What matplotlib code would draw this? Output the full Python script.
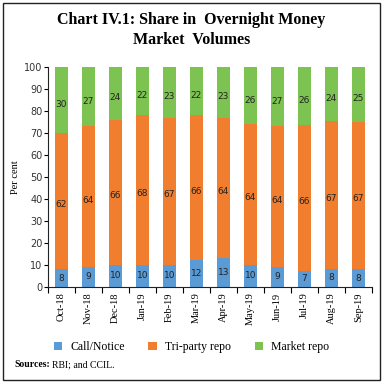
import numpy as np
import matplotlib.pyplot as plt
from matplotlib.patches import Rectangle

# -----------------------------
# Data
# -----------------------------
months = ['Oct-18', 'Nov-18', 'Dec-18', 'Jan-19', 'Feb-19', 'Mar-19',
          'Apr-19', 'May-19', 'Jun-19', 'Jul-19', 'Aug-19', 'Sep-19']
call_notice = [8, 9, 10, 10, 10, 12, 13, 10, 9, 7.4, 8.2, 8]
tri_party = [62, 64, 66, 68, 67, 66, 64, 64, 64, 66.3, 67.4, 67]
market_repo = [30, 27, 24, 22, 23, 22, 23, 26, 27, 26.3, 24.4, 25]

c_blue = '#5B9BD5'
c_orange = '#F07E2E'
c_green = '#7DC352'

serif = 'Liberation Serif'

fig = plt.figure(figsize=(3.83, 3.83), dpi=100)
ax = fig.add_axes([0.125, 0.251, 0.846, 0.574])

x = np.arange(len(months))
w = 0.48
call = np.array(call_notice)
tri = np.array(tri_party)
mkt = np.array(market_repo)

b1 = ax.bar(x, call, w, color=c_blue, label='Call/Notice')
b2 = ax.bar(x, tri, w, bottom=call, color=c_orange, label='Tri-party repo')
b3 = ax.bar(x, mkt, w, bottom=call + tri, color=c_green, label='Market repo')

# segment labels
lab = dict(ha='center', va='center', fontsize=6.5, color='#222222')
for i in range(len(x)):
    ax.text(x[i], call[i] / 2, f'{call[i]:.0f}', **lab)
    ax.text(x[i], call[i] + tri[i] / 2 - 1.5, f'{tri[i]:.0f}', **lab)
    ax.text(x[i], call[i] + tri[i] + mkt[i] / 2 - 2, f'{mkt[i]:.0f}', **lab)

ax.set_xlim(-0.5, len(months) - 0.5)
ax.set_ylim(0, 100)
ax.set_yticks(np.arange(0, 101, 10))
ax.tick_params(axis='y', labelsize=7, length=3, direction='out', pad=1, labelcolor='#333333')

# ticks between categories, labels at centers
ax.set_xticks(np.arange(-0.5, len(months), 1))
ax.set_xticklabels([])
ax.set_xticks(x, minor=True)
ax.set_xticklabels(months, minor=True, rotation=90, fontsize=7.5, family=serif)
ax.tick_params(axis='x', which='major', length=4, direction='out')
ax.tick_params(axis='x', which='minor', length=0, pad=4)

for s in ['top', 'right']:
    ax.spines[s].set_visible(False)
ax.spines['left'].set_color('#222222')
ax.spines['bottom'].set_color('#222222')

ax.set_ylabel('Per cent', fontsize=7.5, family=serif, labelpad=3)

fig.text(0.5, 0.947, 'Chart IV.1: Share in  Overnight Money', ha='center', va='center',
         fontsize=11.5, fontweight='bold', family=serif)
fig.text(0.5, 0.896, 'Market  Volumes', ha='center', va='center',
         fontsize=11.5, fontweight='bold', family=serif)

fig.legend(handles=[b1, b2, b3], loc='center', bbox_to_anchor=(0.5, 0.094), ncol=3,
           frameon=False, prop={'family': serif, 'size': 8.5}, handlelength=0.7,
           handleheight=0.7, columnspacing=2.0, handletextpad=0.7)

fig.text(0.037, 0.047, 'Sources:', fontsize=7, fontweight='bold', family=serif, va='center')
fig.text(0.137, 0.047, 'RBI; and CCIL.', fontsize=7, family=serif, va='center')

# outer frame
fig.patches.append(Rectangle((0.008, 0.008), 0.984, 0.984, transform=fig.transFigure,
                             fill=False, edgecolor='#222222', linewidth=1.0))

plt.savefig('out.png', dpi=100)
